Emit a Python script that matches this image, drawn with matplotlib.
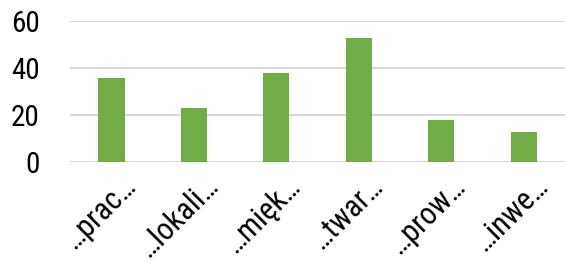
import matplotlib.pyplot as plt
from matplotlib import font_manager
from matplotlib.transforms import ScaledTranslation

categories = ['…prac…', '…lokali…', '…mięk…', '…twar…', '…prow…', '…inwe…']
values = [36, 23, 38, 53, 18, 13]
yticks = [0, 20, 40, 60]

names = {f.name for f in font_manager.fontManager.ttflist}
fam = [n for n in ['Roboto Condensed', 'Liberation Sans Narrow', 'Roboto'] if n in names]
plt.rcParams['font.family'] = fam + ['DejaVu Sans']

fig = plt.figure(figsize=(5.65, 2.68), dpi=100, facecolor='white')
ax = fig.add_axes([0.124, 0.395, 0.876, 0.525], frameon=False)

x = range(len(categories))
ax.bar(x, values, width=0.32, color='#70AD47', zorder=3)

ax.set_xlim(-0.5, 5.5)
ax.set_ylim(0, 60)
ax.set_yticks(yticks)
ax.yaxis.grid(True, color='#D9D9D9', linewidth=1.5, zorder=0)
ax.tick_params(axis='both', length=0, colors='black')
ax.tick_params(axis='y', pad=22, labelsize=21)
ax.set_xticks(list(x))
ax.set_xticklabels(categories, rotation=45, ha='right', rotation_mode='anchor',
                   fontsize=22)
ax.tick_params(axis='x', pad=6)
# excel puts the end of the rotated label a bit right of the tick
for lab in ax.get_xticklabels():
    lab.set_transform(lab.get_transform() + ScaledTranslation(0.1, 0, fig.dpi_scale_trans))

fig.savefig('out.png', dpi=100)
